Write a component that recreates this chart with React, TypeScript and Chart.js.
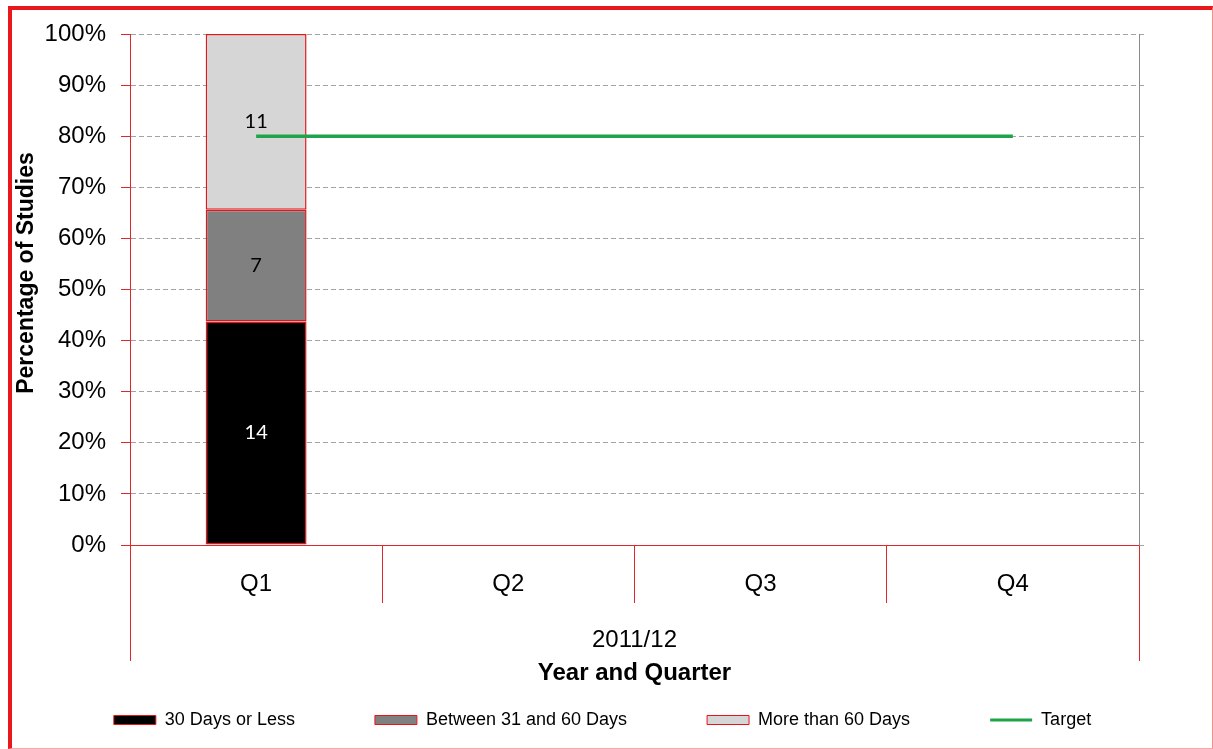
import React, { useEffect, useRef } from 'react';
import { Chart, registerables } from 'chart.js';

Chart.register(...registerables);

// ---- data ----
const quarters = ['Q1', 'Q2', 'Q3', 'Q4'];
const yearLabels = ['2011/12'];
const days30OrLess = [14, 0, 0, 0];
const days31To60 = [7, 0, 0, 0];
const daysOver60 = [11, 0, 0, 0];
const targetPct = [80, 80, 80, 80];
const seriesNames = ['30 Days or Less', 'Between 31 and 60 Days', 'More than 60 Days', 'Target'];
const yTickStep = 10;

const FONT = '"Liberation Sans", Arial, Helvetica, sans-serif';
const RED = '#e0282c';

const totals = quarters.map((_, i) => days30OrLess[i] + days31To60[i] + daysOver60[i]);
const toPct = (arr: number[]) => arr.map((v, i) => (totals[i] ? (v / totals[i]) * 100 : null));

const countLabelsPlugin = {
  id: 'countLabels',
  afterDatasetsDraw(chart: any) {
    const ctx = chart.ctx;
    const sets = [days30OrLess, days31To60, daysOver60];
    const colors = ['#ffffff', '#000000', '#000000'];
    sets.forEach((counts, di) => {
      const meta = chart.getDatasetMeta(di);
      meta.data.forEach((el: any, i: number) => {
        if (!counts[i]) return;
        const { x, y, base } = el.getProps(['x', 'y', 'base'], true);
        ctx.save();
        ctx.font = '20px Lato, "Open Sans", sans-serif';
        ctx.fillStyle = colors[di];
        ctx.textAlign = 'center';
        ctx.textBaseline = 'middle';
        ctx.fillText(String(counts[i]), x, (y + base) / 2);
        ctx.restore();
      });
    });
  },
};

const yTitlePlugin = {
  id: 'yTitle',
  afterDraw(chart: any) {
    const ctx = chart.ctx;
    ctx.save();
    ctx.translate(27, 273);
    ctx.rotate(-Math.PI / 2);
    ctx.font = `bold 23px ${FONT}`;
    ctx.fillStyle = '#000';
    ctx.textAlign = 'center';
    ctx.textBaseline = 'middle';
    ctx.fillText('Percentage of Studies', 0, 0);
    ctx.restore();
  },
};

export default function App() {
  const canvasRef = useRef<HTMLCanvasElement | null>(null);

  useEffect(() => {
    if (!canvasRef.current) return;
    const barCommon = {
      type: 'bar' as const,
      borderColor: '#e3161c',
      borderWidth: 1.5,
      borderSkipped: false,
      barPercentage: 0.4,
      categoryPercentage: 1,
      order: 1,
      xAxisID: 'x',
      yAxisID: 'y',
    };
    const chart = new Chart(canvasRef.current, {
      type: 'bar',
      data: {
        labels: quarters,
        datasets: [
          { ...barCommon, label: seriesNames[0], data: toPct(days30OrLess), backgroundColor: '#000000' },
          { ...barCommon, label: seriesNames[1], data: toPct(days31To60), backgroundColor: '#808080' },
          { ...barCommon, label: seriesNames[2], data: toPct(daysOver60), backgroundColor: '#d6d6d6' },
          {
            type: 'line' as const,
            label: seriesNames[3],
            data: targetPct,
            borderColor: '#1ea54c',
            backgroundColor: '#1ea54c',
            borderWidth: 3.5,
            pointRadius: 0,
            stack: 'target',
            order: 0,
            xAxisID: 'x',
            yAxisID: 'y',
          } as any,
        ],
      },
      options: {
        responsive: false,
        animation: false,
        devicePixelRatio: 1,
        layout: { padding: { top: 34, right: 8, bottom: 10, left: 0 } },
        plugins: {
          tooltip: { enabled: false },
          title: { display: false },
          legend: {
            position: 'bottom',
            labels: {
              usePointStyle: true,
              pointStyleWidth: 42,
              boxHeight: 9,
              padding: 80,
              color: '#000',
              font: { family: FONT, size: 18 },
              generateLabels: (ch: any) =>
                ch.data.datasets.map((ds: any, i: number) => ({
                  text: ds.label,
                  fillStyle: ds.backgroundColor,
                  strokeStyle: ds.borderColor,
                  lineWidth: i === 3 ? 3 : 1,
                  pointStyle: i === 3 ? 'line' : 'rect',
                  hidden: !ch.isDatasetVisible(i),
                  datasetIndex: i,
                  fontColor: '#000',
                })),
            },
          },
        },
        scales: {
          x: {
            type: 'category',
            position: 'bottom',
            stacked: true,
            offset: true,
            weight: 0,
            grid: {
              offset: true,
              drawOnChartArea: false,
              drawTicks: true,
              tickLength: 58,
              color: RED,
              tickColor: RED,
            },
            border: { display: true, color: RED, width: 1 },
            ticks: { color: '#000', font: { family: FONT, size: 24 }, padding: -33, maxRotation: 0 },
            afterFit: (s: any) => {
              s.height = 58;
            },
          },
          x2: {
            type: 'category',
            position: 'bottom',
            labels: yearLabels,
            offset: true,
            weight: 1,
            grid: {
              offset: true,
              drawOnChartArea: false,
              drawTicks: true,
              tickLength: 58,
              color: RED,
              tickColor: RED,
            },
            border: { display: false },
            ticks: {
              color: '#000',
              font: { family: FONT, size: 24 },
              mirror: true,
              padding: -52,
              maxRotation: 0,
              autoSkip: false,
            },
            title: {
              display: true,
              text: 'Year and Quarter',
              color: '#000',
              font: { family: FONT, size: 24, weight: 'bold' },
              padding: { top: 0, bottom: -57 },
            },
            afterFit: (s: any) => {
              s.height = 28;
            },
          },
          y: {
            type: 'linear',
            position: 'left',
            stacked: true,
            min: 0,
            max: 100,
            grid: {
              color: (c: any) => (c.tick && c.tick.value === 0 ? 'rgba(0,0,0,0)' : '#a3a3a3'),
              tickColor: RED,
              tickLength: 9,
              tickBorderDash: [],
            },
            border: { display: true, color: RED, width: 1, dash: [5, 3] },
            ticks: {
              stepSize: yTickStep,
              color: '#000',
              padding: 15,
              font: { family: FONT, size: 24 },
              callback: (v: any) => `${v}%`,
            },
            afterFit: (s: any) => {
              s.width = 130;
            },
          },
          y2: {
            type: 'linear',
            position: 'right',
            min: 0,
            max: 100,
            grid: {
              drawOnChartArea: false,
              tickLength: 8,
              tickColor: '#a3a3a3',
              tickBorderDash: [4, 3],
            },
            border: { display: true, color: '#8a8a8a', width: 1 },
            ticks: { stepSize: yTickStep, display: false },
            afterFit: (s: any) => {
              s.width = 66;
            },
          },
        },
      } as any,
      plugins: [countLabelsPlugin, yTitlePlugin],
    });
    return () => chart.destroy();
  }, []);

  return (
    <div style={{ position: 'absolute', left: 0, top: 0, width: 1213, height: 749, background: '#fff' }}>
      <div
        style={{
          position: 'absolute',
          left: 8,
          top: 6,
          width: 1205,
          height: 743,
          boxSizing: 'border-box',
          borderTop: '4px solid #e8181c',
          borderLeft: '4px solid #e8181c',
          borderRight: '1px solid #f29090',
          borderBottom: '1px solid #f5a8a8',
        }}
      />
      <canvas
        ref={canvasRef}
        width={1213}
        height={749}
        style={{ position: 'absolute', left: 0, top: 0, width: 1213, height: 749 }}
      />
    </div>
  );
}
